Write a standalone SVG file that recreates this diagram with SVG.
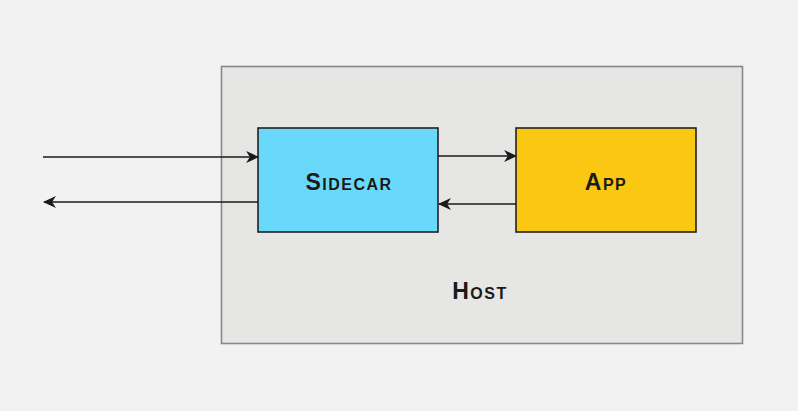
<svg xmlns="http://www.w3.org/2000/svg" width="798" height="411" viewBox="0 0 798 411">
<style>
.lbl{font-family:"Liberation Sans",Arial,sans-serif;font-weight:bold;font-variant:small-caps;font-size:23px;fill:#1a1a1a;text-anchor:middle;dominant-baseline:central;letter-spacing:1.5px}
.node{stroke:#222;stroke-width:1.6}
.conn{stroke:#1a1a1a;stroke-width:1.6;fill:none;marker-end:url(#ah)}
</style>
<defs>
<marker id="ah" viewBox="0 0 12 12" refX="11" refY="6" markerWidth="13" markerHeight="13" markerUnits="userSpaceOnUse" orient="auto">
<path d="M0,0.5 L12,6 L0,11.5 L3.5,6 Z" fill="#1a1a1a"/>
</marker>
</defs>
<rect width="798" height="411" fill="#f2f2f2"/>
<g id="host">
<rect x="221.5" y="66.5" width="521" height="277" fill="#e6e6e5" stroke="#888" stroke-width="1.6"/>
<text class="lbl" x="480" y="291">Host</text>
</g>
<g id="sidecar">
<rect class="node" x="258" y="128" width="180" height="104" fill="#6ad8fa"/>
<text class="lbl" x="349" y="182">Sidecar</text>
</g>
<g id="app">
<rect class="node" x="516" y="128" width="180" height="104" fill="#fac712"/>
<text class="lbl" x="606" y="182">App</text>
</g>
<g id="connectors">
<line class="conn" x1="43" y1="157" x2="258" y2="157"/>
<line class="conn" x1="258" y1="202" x2="44" y2="202"/>
<line class="conn" x1="438" y1="156" x2="516" y2="156"/>
<line class="conn" x1="516" y1="204" x2="439" y2="204"/>
</g>
</svg>
